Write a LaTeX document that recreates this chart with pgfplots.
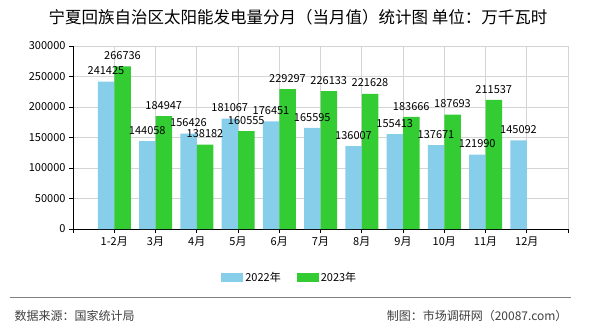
\documentclass[border=0pt]{standalone}
\usepackage{pgfplots}
\pgfplotsset{compat=1.18}
\usepackage{fontspec}
\setmainfont{Noto Sans CJK SC}
\definecolor{c22}{HTML}{87CEEB}
\definecolor{c23}{HTML}{33CC33}
\definecolor{gridc}{HTML}{D4D4D4}
\begin{document}
\begin{tikzpicture}[x=1pt,y=1pt]
\path[use as bounding box, fill=white] (0,0) rectangle (590,330);
\node[font=\fontsize{16.5}{19}\selectfont] at (298,313) {宁夏回族自治区太阳能发电量分月（当月值）统计图 单位：万千瓦时};
\begin{axis}[
  at={(73pt,101pt)}, anchor=south west,
  scale only axis, width=495pt, height=183pt,
  xmin=0, xmax=12, ymin=0, ymax=300000,
  axis x line*=bottom, axis y line*=left,
  axis line style={black, line width=0.8pt},
  xtick={0,...,12},
  xticklabels={,1-2月,3月,4月,5月,6月,7月,8月,9月,10月,11月,12月,},
  ytick={0,50000,...,300000},
  scaled y ticks=false,
  /pgf/number format/.cd, fixed, set thousands separator={}, assume math mode=true,
  /pgfplots/.cd,
  tick align=outside, major tick length=4pt,
  tick style={black, line width=0.8pt},
  grid=major, major grid style={gridc, line width=0.8pt},
  ticklabel style={font=\fontsize{11}{13}\selectfont},
  ybar, bar width=16.5pt,
  point meta=explicit symbolic,
  nodes near coords,
  nodes near coords style={font=\fontsize{11}{13}\selectfont, anchor=south, inner sep=0pt, yshift=6.5pt, black},
  legend style={at={(0.438,-0.265)}, anchor=center, draw=none, fill=none,
    legend columns=2, font=\fontsize{11}{13}\selectfont,
    /tikz/every even column/.append style={column sep=14pt}},
  legend image code/.code={\fill[#1] (0pt,-4.5pt) rectangle (22pt,4.5pt);},
]
\addplot[fill=c22, draw=none, bar shift=-8.25pt] coordinates {
 (1,241425) [241425] (2,144058) [144058] (3,156426) [156426] (4,181067) [181067]
 (5,176451) [176451] (6,165595) [165595] (7,136007) [136007] (8,155413) [155413]
 (9,137671) [137671] (10,121990) [121990] (11,145092) [145092]};
\addlegendentry{2022年}
\addplot[fill=c23, draw=none, bar shift=8.25pt] coordinates {
 (1,266736) [266736] (2,184947) [184947] (3,138182) [138182] (4,160555) [160555]
 (5,229297) [229297] (6,226133) [226133] (7,221628) [221628] (8,183666) [183666]
 (9,187693) [187693] (10,211537) [211537]};
\addlegendentry{2023年}
\end{axis}
\draw[color=gray, line width=1pt] (10,33) -- (571,33);
\node[anchor=west, font=\fontsize{12}{14}\selectfont, text=black!75] at (11,14) {数据来源：国家统计局};
\node[anchor=east, font=\fontsize{12}{14}\selectfont, text=black!75] at (571,14) {制图：市场调研网（20087.com）};
\end{tikzpicture}
\end{document}
